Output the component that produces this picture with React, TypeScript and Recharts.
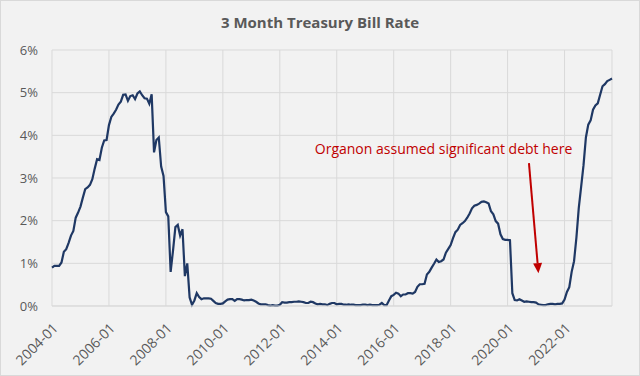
import {
  LineChart,
  Line,
  XAxis,
  YAxis,
  CartesianGrid,
  ReferenceLine,
  ReferenceDot,
} from 'recharts'

const startYear = 2004

// monthly 3 month T-bill rate (%), one row per year, starting 2004-01
const rates: number[] = [
  0.9, 0.94, 0.94, 0.94, 1.02, 1.27, 1.33, 1.48, 1.65, 1.76, 2.07, 2.19,
  2.33, 2.54, 2.74, 2.78, 2.84, 2.97, 3.22, 3.44, 3.42, 3.71, 3.88, 3.89,
  4.24, 4.43, 4.51, 4.6, 4.72, 4.79, 4.95, 4.96, 4.81, 4.92, 4.94, 4.85,
  4.98, 5.03, 4.94, 4.87, 4.86, 4.74, 4.96, 3.6, 3.89, 3.95, 3.27, 3.05,
  2.2, 2.1, 0.8, 1.3, 1.85, 1.9, 1.65, 1.8, 0.7, 1.0, 0.2, 0.03,
  0.13, 0.3, 0.21, 0.16, 0.18, 0.18, 0.18, 0.17, 0.12, 0.07, 0.05, 0.05,
  0.06, 0.11, 0.15, 0.16, 0.16, 0.12, 0.16, 0.16, 0.15, 0.13, 0.14, 0.14,
  0.15, 0.13, 0.1, 0.06, 0.04, 0.04, 0.04, 0.02, 0.01, 0.02, 0.01, 0.01,
  0.03, 0.09, 0.08, 0.08, 0.09, 0.09, 0.1, 0.1, 0.11, 0.1, 0.09, 0.07,
  0.07, 0.1, 0.09, 0.06, 0.04, 0.05, 0.04, 0.04, 0.02, 0.05, 0.07, 0.07,
  0.04, 0.05, 0.05, 0.03, 0.03, 0.04, 0.03, 0.03, 0.02, 0.02, 0.02, 0.03,
  0.03, 0.02, 0.03, 0.02, 0.02, 0.02, 0.03, 0.07, 0.02, 0.02, 0.13, 0.23,
  0.26, 0.31, 0.29, 0.23, 0.27, 0.27, 0.3, 0.3, 0.29, 0.33, 0.45, 0.51,
  0.51, 0.52, 0.74, 0.8, 0.9, 0.99, 1.09, 1.03, 1.05, 1.09, 1.25, 1.34,
  1.43, 1.59, 1.73, 1.79, 1.9, 1.94, 1.99, 2.07, 2.17, 2.29, 2.35, 2.37,
  2.4, 2.44, 2.45, 2.43, 2.4, 2.22, 2.15, 1.99, 1.93, 1.68, 1.57, 1.55,
  1.55, 1.54, 0.3, 0.14, 0.13, 0.16, 0.13, 0.1, 0.11, 0.1, 0.09, 0.09,
  0.08, 0.04, 0.03, 0.02, 0.02, 0.04, 0.05, 0.05, 0.04, 0.05, 0.05, 0.06,
  0.15, 0.33, 0.44, 0.8, 1.05, 1.6, 2.3, 2.8, 3.3, 3.95, 4.25, 4.35,
  4.6, 4.7, 4.75, 4.95, 5.15, 5.2, 5.27, 5.3, 5.33,
]

const yTicks = [0, 1, 2, 3, 4, 5, 6]

const note = 'Organon assumed significant debt here'
const noteAt = { x: '2017-10', y: 3.68 }
const arrowFrom = { x: '2020-10', y: 3.35 }
const arrowTo = { x: '2021-02', y: 0.77 }

const label = (i: number) => {
  const y = startYear + Math.floor(i / 12)
  const m = (i % 12) + 1
  return `${y}-${m < 10 ? '0' + m : m}`
}

const data = rates.map((r, i) => ({ date: label(i), rate: r }))

const FONT = '"Open Sans", "Noto Sans", sans-serif'
const RED = '#c00000'

// line with an arrowhead at the end
function Arrow(props: any) {
  const { x1, y1, x2, y2 } = props
  if ([x1, y1, x2, y2].some((v) => typeof v !== 'number')) return null
  const ang = Math.atan2(y2 - y1, x2 - x1)
  const len = 10
  const w = 4.5
  const bx = x2 - len * Math.cos(ang)
  const by = y2 - len * Math.sin(ang)
  const px = -Math.sin(ang) * w
  const py = Math.cos(ang) * w
  return (
    <g>
      <line x1={x1} y1={y1} x2={bx} y2={by} stroke={RED} strokeWidth={2} />
      <polygon points={`${x2},${y2} ${bx + px},${by + py} ${bx - px},${by - py}`} fill={RED} />
    </g>
  )
}

export default function App() {
  return (
    <div
      style={{
        position: 'absolute',
        left: 0,
        top: 0,
        width: 638,
        height: 374,
        background: '#f2f2f2',
        border: '1px solid #d9d9d9',
        fontFamily: FONT,
      }}
    >
      <div
        style={{
          position: 'absolute',
          top: 11,
          left: 0,
          width: 638,
          textAlign: 'center',
          fontSize: 15,
          fontWeight: 700,
          color: '#595959',
        }}
      >
        3 Month Treasury Bill Rate
      </div>
      <LineChart
        width={638}
        height={374}
        data={data}
        margin={{ top: 49, right: 27, left: 0, bottom: 0 }}
      >
        <CartesianGrid stroke="#d9d9d9" strokeWidth={1} />
        <XAxis
          dataKey="date"
          interval={23}
          height={69}
          angle={-45}
          textAnchor="end"
          tickLine={false}
          axisLine={{ stroke: '#d9d9d9' }}
          tickMargin={10}
          tick={{ fill: '#595959', fontSize: 14, fontFamily: FONT }}
        />
        <YAxis
          width={51}
          domain={[0, 6]}
          ticks={yTicks}
          tickFormatter={(v) => `${v}%`}
          axisLine={false}
          tickLine={false}
          tickMargin={8}
          tick={{ fill: '#595959', fontSize: 13, fontFamily: FONT }}
        />
        <Line
          type="linear"
          dataKey="rate"
          stroke="#1f3864"
          strokeWidth={2.2}
          dot={false}
          isAnimationActive={false}
        />
        <ReferenceLine
          segment={[arrowFrom, arrowTo]}
          shape={(p: any) => <Arrow {...p} />}
          ifOverflow="visible"
        />
        <ReferenceDot
          x={noteAt.x}
          y={noteAt.y}
          r={0}
          fill="none"
          stroke="none"
          label={{ value: note, position: 'center', fill: RED, fontSize: 14, fontFamily: FONT }}
        />
      </LineChart>
    </div>
  )
}
